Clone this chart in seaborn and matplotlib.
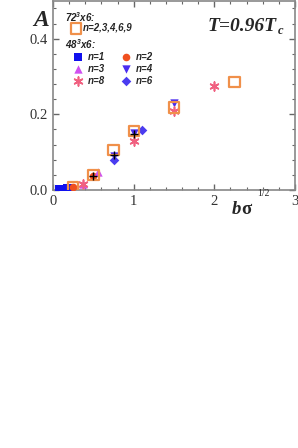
import matplotlib
matplotlib.use("Agg")
import matplotlib.pyplot as plt
import seaborn as sns
import pandas as pd
from matplotlib.ticker import MultipleLocator

sns.set_style("ticks")
plt.rcParams['font.family'] = ['Liberation Serif', 'DejaVu Serif']
plt.rcParams['mathtext.fontset'] = 'custom'
plt.rcParams['mathtext.rm'] = 'Liberation Sans:italic:bold'
plt.rcParams['mathtext.it'] = 'Liberation Sans:italic:bold'
plt.rcParams['mathtext.bf'] = 'Liberation Sans:italic:bold'

# data
x72 = [0.25, 0.5, 0.75, 1.0, 1.5, 2.25]
y72 = [0.008, 0.040, 0.105, 0.155, 0.218, 0.285]
x_n1 = [0.08, 0.11, 0.14, 0.17, 0.20]
y_n1 = [0.002, 0.002, 0.003, 0.004, 0.005]
x_n2 = [0.25, 0.5]
y_n2 = [0.008, 0.037]
x_n3 = [0.375, 0.56]
y_n3 = [0.016, 0.048]
x_n4 = [0.75, 1.0, 1.5]
y_n4 = [0.090, 0.150, 0.230]
x_n6 = [0.75, 1.1]
y_n6 = [0.080, 0.159]
x_n8 = [0.375, 1.0, 1.5, 2.0]
y_n8 = [0.015, 0.130, 0.210, 0.275]
x_err = [0.5, 0.75, 1.0]
y_err = [0.037, 0.092, 0.148]

W, H = 298, 448
fig = plt.figure(figsize=(W / 100, H / 100), dpi=100)
ax = fig.add_axes([0.178, 0.576, 0.812, 0.422])

def sc(x, y, marker, color, size, label, filled=True, lw=0.0, zorder=3):
    df = pd.DataFrame({'x': x, 'y': y})
    if filled:
        sns.scatterplot(data=df, x='x', y='y', marker=marker, color=color, s=size,
                        edgecolor=color, linewidth=lw, ax=ax, label=label, zorder=zorder)
    else:
        sns.scatterplot(data=df, x='x', y='y', marker=marker, s=size,
                        facecolor='none', edgecolor=color, linewidth=1.6, ax=ax,
                        label=label, zorder=zorder)

sc(x_n1, y_n1, 's', '#1010ee', 26, 'n=1')
sc(x_n2, y_n2, 'o', '#f05020', 30, 'n=2')
sc(x_n3, y_n3, '^', '#d050f0', 36, 'n=3')
sc(x_n4, y_n4, 'v', '#4a2cf0', 36, 'n=4')
sc(x_n8, y_n8, (6, 2, 0), '#f06080', 40, 'n=8', lw=1.2)
sc(x_n6, y_n6, 'D', '#4a3cf0', 24, 'n=6')
sc(x72, y72, 's', '#f0904a', 55, 'n=2,3,4,6,9', filled=False, zorder=4)
sns.scatterplot(data=pd.DataFrame({'x': x_err, 'y': y_err}), x='x', y='y',
                marker='+', color='black', s=40, linewidth=1.0, ax=ax, zorder=5, legend=False)

ax.set_xlim(0, 3)
ax.set_ylim(0, 0.5)
ax.xaxis.set_major_locator(MultipleLocator(1))
ax.xaxis.set_minor_locator(MultipleLocator(0.2))
ax.yaxis.set_minor_locator(MultipleLocator(0.04))
ax.set_yticks([0.0, 0.2, 0.4])
ax.set_yticklabels(['0.0', '0.2', '0.4'])
ax.tick_params(which='both', direction='in', top=True, right=True, color='#666666',
               labelsize=10.5, labelcolor='#333333')
ax.tick_params(which='major', length=4, width=1)
ax.tick_params(which='minor', length=2.5, width=0.8)
for sp in ax.spines.values():
    sp.set_color('#888888')
    sp.set_linewidth(1.2)
ax.set_xlabel('')
ax.set_ylabel('')

handles, labels = ax.get_legend_handles_labels()
hmap = dict(zip(labels, handles))
if ax.get_legend():
    ax.get_legend().remove()

legfont = {'family': 'Liberation Sans', 'style': 'italic', 'weight': 'bold', 'size': 7}
common = dict(frameon=False, prop=legfont, handlelength=1.0,
              borderpad=0, borderaxespad=0, bbox_transform=fig.transFigure,
              loc='upper left')
leg1 = ax.legend([hmap['n=2,3,4,6,9']], ['n=2,3,4,6,9'], handletextpad=0.2,
                 bbox_to_anchor=(71 / W, 1 - 23 / H), **common)
ax.add_artist(leg1)
keys = ['n=1', 'n=3', 'n=8', 'n=2', 'n=4', 'n=6']
leg2 = ax.legend([hmap[k] for k in keys], keys, ncol=2, labelspacing=0.2,
                 handletextpad=0.5, columnspacing=1.7,
                 bbox_to_anchor=(73 / W, 1 - 52 / H), **common)

hdr = dict(family='Liberation Sans', style='italic', weight='bold', size=7,
           ha='left', va='center', color='#222222')
fig.text(65 / W, 1 - 17 / H, '72$^3$x6:', **hdr)
fig.text(65 / W, 1 - 44 / H, '48$^3$x6:', **hdr)

fig.text(41 / W, 1 - 20 / H, 'A', fontsize=17, fontweight='bold', style='italic',
         family='Liberation Serif', ha='center', va='center')
fig.text(277 / W, 1 - 31 / H, 'T=0.96T', fontsize=14, fontweight='bold',
         style='italic', family='Liberation Serif', ha='right', va='baseline')
fig.text(278 / W, 1 - 34 / H, 'c', fontsize=9, fontweight='bold',
         style='italic', family='Liberation Serif', ha='left', va='baseline')
# x-axis label: b sigma^(1/2)
fig.text(232 / W, 1 - 214 / H, 'b', fontsize=13.5, fontweight='bold',
         style='italic', family='Liberation Serif', ha='left', va='baseline')
fig.text(241 / W, 1 - 214 / H, 'σ', fontsize=13.5, fontweight='bold',
         family=['Liberation Serif', 'DejaVu Serif'], ha='left', va='baseline')
fig.text(257 / W, 1 - 196 / H, '1/2', fontsize=7, family='Liberation Serif',
         ha='left', va='baseline')

fig.savefig('out.png', dpi=100)
